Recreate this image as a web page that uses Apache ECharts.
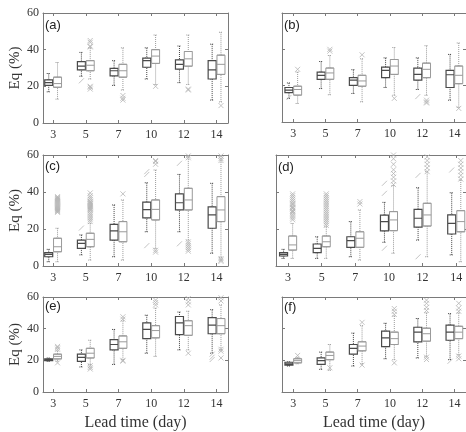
<!DOCTYPE html>
<html>
<head>
<meta charset="utf-8">
<script src="https://cdn.jsdelivr.net/npm/echarts@6/dist/echarts.min.js"></script>
<style>
  html, body { margin: 0; padding: 0; background: #fff; }
  #chart { width: 466px; height: 432px; }
</style>
</head>
<body>
<div id="chart"></div>
<script>
var leadTimes = ['3', '5', '7', '10', '12', '14'];
var panelNames = ['(a)', '(b)', '(c)', '(d)', '(e)', '(f)'];

// box stats per lead time: [min, Q1, median, Q3, max]
var darkA = [[17, 20.5, 22, 23.5, 27], [25.5, 29, 31, 33.5, 38.5], [20.5, 25.7, 28.5, 29.8, 34], [24, 30.4, 34, 35.4, 41], [22, 29.4, 32, 34.4, 42], [12.5, 24, 29, 34, 43]];
var lightA = [[13, 19.5, 21.5, 25, 33], [24, 28.5, 31.5, 34, 41], [18, 25, 28.5, 32, 41], [21, 32.5, 36.5, 40, 48], [21, 31, 35, 39, 48], [11.5, 26.5, 32, 37, 49.5]];
var darkB = [[13, 16.2, 17.5, 19, 21.5], [18.4, 23.5, 25.7, 27.5, 33.3], [15.7, 20.2, 23, 24.4, 28.8], [19, 24.4, 28.4, 30.2, 35.3], [17.9, 23, 26.2, 29.7, 35.3], [12, 19, 26, 28.4, 37.2]];
var lightB = [[10.2, 14.8, 17.9, 19.7, 27.5], [15, 23.5, 27, 29.7, 36.6], [11.1, 19.7, 22.6, 25.7, 34.8], [14.7, 26.2, 30.8, 34.4, 41], [14.7, 24.4, 29, 32.4, 42], [8, 21.1, 25.7, 30.8, 43.5]];
var darkC = [[2.3, 5, 6.3, 7.2, 9], [6, 9.5, 12.2, 14, 16.8], [5, 14, 19, 22.5, 33], [18.5, 26, 30.5, 34.5, 45], [18.5, 30.3, 34.2, 39, 49.5], [6.9, 20.4, 27.6, 32, 44.7]];
var lightC = [[2.3, 7.7, 10.4, 15, 20.4], [3.2, 10.4, 14.4, 17.7, 23], [3.2, 13.1, 18.5, 24, 35.7], [9.5, 24.9, 30.6, 35.7, 51.9], [14, 30.3, 35.7, 42, 59], [4.7, 24, 30.3, 37.5, 59.5]];
var darkD = [[4.1, 5.4, 6.3, 7.2, 9], [4.1, 7.2, 9.5, 11.9, 15.8], [5, 10.1, 13.7, 15.8, 24], [12.8, 19, 24, 27.5, 34.4], [14, 21, 25.8, 30.6, 42.3], [6, 17.3, 23, 27.6, 39.6]];
var lightD = [[4.1, 8.6, 11.4, 16.2, 23], [4.1, 10.4, 13.1, 16.2, 21.2], [3.2, 10.1, 15, 18.5, 30.3], [6.9, 19.1, 24.9, 29.4, 43.5], [5, 21.6, 27.6, 33.9, 51], [2.3, 18.5, 24, 29.9, 46.5]];
var darkE = [[19.4, 19.8, 20.4, 21, 21.5], [15.8, 19.4, 21.9, 23.9, 26.6], [17.4, 26.6, 30, 33.1, 39.5], [24.5, 33.7, 39.5, 43.6, 48.5], [26.6, 36.2, 43.6, 47.7, 50.5], [24.5, 36.8, 42.3, 47, 52]];
var lightE = [[19.4, 20.9, 22.5, 23.9, 26], [17.4, 21.5, 24.5, 27.6, 32.7], [20.4, 27.6, 31.7, 35.4, 45], [22.5, 34.2, 38.8, 41.9, 53], [26.6, 35.8, 41.9, 45, 51], [26.6, 36.8, 41.9, 46.4, 55]];
var darkF = [[16.4, 17, 17.8, 18.8, 19], [14.3, 17.4, 19.8, 21.5, 25.2], [16.4, 23.9, 27.6, 30, 37.2], [21, 28.6, 34.2, 38.4, 43.4], [21.5, 31.7, 37.8, 40.9, 46.4], [20.4, 32.7, 37.8, 42.3, 49.5]];
var lightF = [[17.8, 18.4, 19.8, 21, 21.9], [13.7, 20.4, 23.1, 25.2, 30], [17.8, 26, 29, 31.7, 41.9], [20.4, 30, 33.7, 37.8, 48], [22.5, 32.1, 36.8, 40.3, 50], [23.5, 33.7, 37.8, 41.5, 50]];

// outliers: [lead time number (1..6), value]
var outDarkA = [[2, 23]];
var outLightA = [[2, 41.5], [2, 42], [2, 44], [2, 45], [2, 18.5], [2, 19.5], [2, 20], [3, 15], [3, 13.5], [3, 12.5], [4, 20], [5, 18], [5, 18.5], [6, 9.5]];
var outDarkB = [[1, 13.5], [5, 14]];
var outLightB = [[1, 29], [2, 39], [2, 40], [3, 37], [4, 13], [5, 12], [5, 11], [5, 10.5], [6, 7.5]];
var outDarkC = [[2, 20.5], [4, 51], [4, 49.5], [4, 11], [5, 55.5], [5, 12]];
var outLightC = [[1, 29], [1, 29.5], [1, 30], [1, 30.5], [1, 31], [1, 31.5], [1, 32], [1, 32.5], [1, 33], [1, 33.5], [1, 34], [1, 34.5], [1, 35], [1, 35.5], [1, 36], [1, 36.5], [1, 37], [1, 37.5],
  [2, 24], [2, 25], [2, 26], [2, 27], [2, 28], [2, 29], [2, 30], [2, 30.5], [2, 31], [2, 31.5], [2, 32], [2, 32.5], [2, 33], [2, 33.5], [2, 34], [2, 34.5], [2, 35], [2, 36], [2, 37], [2, 38], [2, 39.5],
  [3, 39], [4, 55], [4, 56.5], [4, 57], [4, 8.5], [4, 7.5], [5, 59.5], [5, 58.5], [5, 13], [5, 12], [5, 11], [5, 10], [5, 9], [5, 8], [6, 57], [6, 58], [6, 59.5], [6, 4], [6, 3.2], [6, 2.5]];
var outDarkD = [[4, 44.7], [4, 39.3], [4, 9.6], [5, 49], [5, 5], [6, 51.9]];
var outLightD = [[1, 25], [1, 26], [1, 27], [1, 28], [1, 29], [1, 29.5], [1, 30], [1, 31], [1, 31.5], [1, 32], [1, 33], [1, 33.5], [1, 34], [1, 35], [1, 36], [1, 37], [1, 38], [1, 39],
  [2, 22], [2, 23], [2, 24], [2, 25], [2, 26], [2, 27], [2, 28], [2, 29], [2, 30], [2, 31], [2, 32], [2, 33], [2, 34], [2, 35], [2, 36], [2, 37], [2, 38], [2, 39],
  [3, 34.8], [3, 33.5], [4, 44], [4, 46], [4, 48], [4, 50], [4, 52], [4, 55], [4, 58], [4, 60], [5, 51], [5, 53], [5, 55], [5, 57], [5, 59], [6, 47], [6, 49], [6, 51], [6, 53], [6, 55], [6, 57]];
var outDarkE = [[6, 23.9], [6, 22], [6, 20.5]];
var outLightE = [[1, 27], [1, 28], [1, 28.8], [1, 18.4], [2, 16.6], [2, 15.5], [2, 14.5], [3, 46], [3, 47.5], [3, 20], [3, 19.5], [4, 55], [4, 56.5], [4, 58], [5, 55], [5, 57], [5, 59], [5, 24.5], [6, 57.5], [6, 59.5], [6, 25.8], [6, 27], [6, 21.5]];
var outDarkF = [[6, 19.4]];
var outLightF = [[1, 23.1], [2, 15.3], [3, 44], [3, 17], [4, 49], [4, 51], [4, 52.7], [4, 18.4], [5, 51.5], [5, 53.5], [5, 56], [5, 58], [5, 22], [5, 20.5], [6, 51], [6, 53], [6, 56], [6, 22.7], [6, 21]];

var darkSets = [darkA, darkB, darkC, darkD, darkE, darkF];
var lightSets = [lightA, lightB, lightC, lightD, lightE, lightF];
var outDark = [outDarkA, outDarkB, outDarkC, outDarkD, outDarkE, outDarkF];
var outLight = [outLightA, outLightB, outLightC, outLightD, outLightE, outLightF];

// panel frames in px, x range in category units
var layout = [
  { left: 43, top: 13, width: 185, height: 110, min: 0.69, max: 6.35, tx: 45, ty: 19 },
  { left: 282, top: 13, width: 188, height: 109, min: 0.65, max: 6.36, tx: 284, ty: 19 },
  { left: 43, top: 155, width: 185, height: 111, min: 0.69, max: 6.35, tx: 45, ty: 160 },
  { left: 276, top: 155, width: 192, height: 111, min: 0.64, max: 6.29, tx: 278, ty: 161 },
  { left: 43, top: 297, width: 185, height: 97, min: 0.69, max: 6.35, tx: 45, ty: 300 },
  { left: 282, top: 297, width: 188, height: 97, min: 0.65, max: 6.36, tx: 284, ty: 301 }
];

var cats = [1, 2, 3, 4, 5, 6];
var shift = 0.135;
var frameColor = '#7a7a7a';
var serif = 'Liberation Serif';

function boxData(stats, off, collapse) {
  return stats.map(function (s, k) {
    var x = k + 1 + off;
    return collapse ? [x, s[1], s[1], s[2], s[3], s[3]] : [x].concat(s);
  });
}
function outData(list, off) {
  return list.map(function (o) { return [o[0] + off, o[1]]; });
}

var grid = [], xAxis = [], yAxis = [], series = [], title = [];

layout.forEach(function (p, i) {
  var leftCol = i % 2 === 0;
  var lastRow = i >= 4;
  var line = { show: true, onZero: false, lineStyle: { color: frameColor, width: 1 } };
  var xTick = { show: true, inside: true, length: 3, customValues: cats, lineStyle: { color: frameColor } };
  var yTick = { show: true, inside: true, length: 3, lineStyle: { color: frameColor } };

  grid.push({ left: p.left, top: p.top, width: p.width, height: p.height });
  title.push({ text: panelNames[i], left: p.tx, top: p.ty, padding: 0,
    textStyle: { fontFamily: 'Liberation Sans', fontSize: 13, fontWeight: 'normal', color: '#222' } });

  xAxis.push({
    type: 'value', gridIndex: i, min: p.min, max: p.max, position: 'bottom',
    axisLine: line, axisTick: xTick, splitLine: { show: false },
    axisLabel: { customValues: cats, formatter: function (v) { return leadTimes[Math.round(v) - 1]; },
      fontFamily: serif, fontSize: 12, color: '#333', margin: 6 },
    name: lastRow ? 'Lead time (day)' : '', nameLocation: 'middle', nameGap: 23,
    nameTextStyle: { fontFamily: serif, fontSize: 16, color: '#333' }
  });
  xAxis.push({
    type: 'value', gridIndex: i, min: p.min, max: p.max, position: 'top',
    axisLine: line, axisTick: xTick, axisLabel: { show: false }, splitLine: { show: false }
  });
  xAxis.push({ type: 'value', gridIndex: i, min: p.min, max: p.max, show: false, axisLine: { onZero: false } });
  xAxis.push({ type: 'value', gridIndex: i, min: p.min, max: p.max, show: false, axisLine: { onZero: false } });

  yAxis.push({
    type: 'value', gridIndex: i, min: 0, max: 60, interval: 20, position: 'left',
    axisLine: line, axisTick: yTick, splitLine: { show: false },
    axisLabel: { show: leftCol, fontFamily: serif, fontSize: 12, color: '#333', margin: 4 },
    name: leftCol ? 'Eq (%)' : '', nameLocation: 'middle', nameGap: 20,
    nameTextStyle: { fontFamily: serif, fontSize: 15, color: '#333' }
  });
  yAxis.push({
    type: 'value', gridIndex: i, min: 0, max: 60, interval: 20, position: 'right',
    axisLine: line, axisTick: yTick, splitLine: { show: false }, axisLabel: { show: false }
  });

  var yi = 2 * i;
  // dotted whiskers, then solid boxes on top
  series.push({ type: 'boxplot', xAxisIndex: 4 * i, yAxisIndex: yi, boxWidth: [4, 4], silent: true,
    data: boxData(darkSets[i], -shift, false),
    itemStyle: { color: 'transparent', borderColor: '#444', borderWidth: 1, borderType: 'dotted' } });
  series.push({ type: 'boxplot', xAxisIndex: 4 * i + 1, yAxisIndex: yi, boxWidth: [8, 8], silent: true,
    data: boxData(darkSets[i], -shift, true),
    itemStyle: { color: '#fff', borderColor: '#4a4a4a', borderWidth: 1.2 } });
  series.push({ type: 'boxplot', xAxisIndex: 4 * i + 2, yAxisIndex: yi, boxWidth: [4, 4], silent: true,
    data: boxData(lightSets[i], shift, false),
    itemStyle: { color: 'transparent', borderColor: '#9a9a9a', borderWidth: 1, borderType: 'dotted' } });
  series.push({ type: 'boxplot', xAxisIndex: 4 * i + 3, yAxisIndex: yi, boxWidth: [8, 8], silent: true,
    data: boxData(lightSets[i], shift, true),
    itemStyle: { color: '#fff', borderColor: '#9a9a9a', borderWidth: 1 } });

  series.push({ type: 'scatter', xAxisIndex: 4 * i, yAxisIndex: yi, silent: true,
    symbol: 'path://M0,10L10,0', symbolSize: 5,
    data: outData(outDark[i], -shift),
    itemStyle: { color: 'transparent', borderColor: '#b4b4b4', borderWidth: 1 } });
  series.push({ type: 'scatter', xAxisIndex: 4 * i, yAxisIndex: yi, silent: true,
    symbol: 'path://M0,0L10,10M10,0L0,10', symbolSize: 5,
    data: outData(outLight[i], shift),
    itemStyle: { color: 'transparent', borderColor: '#b4b4b4', borderWidth: 1 } });
});

var chart = echarts.init(document.getElementById('chart'));
chart.setOption({
  animation: false,
  backgroundColor: '#fff',
  title: title,
  grid: grid,
  xAxis: xAxis,
  yAxis: yAxis,
  series: series
});
</script>
</body>
</html>
